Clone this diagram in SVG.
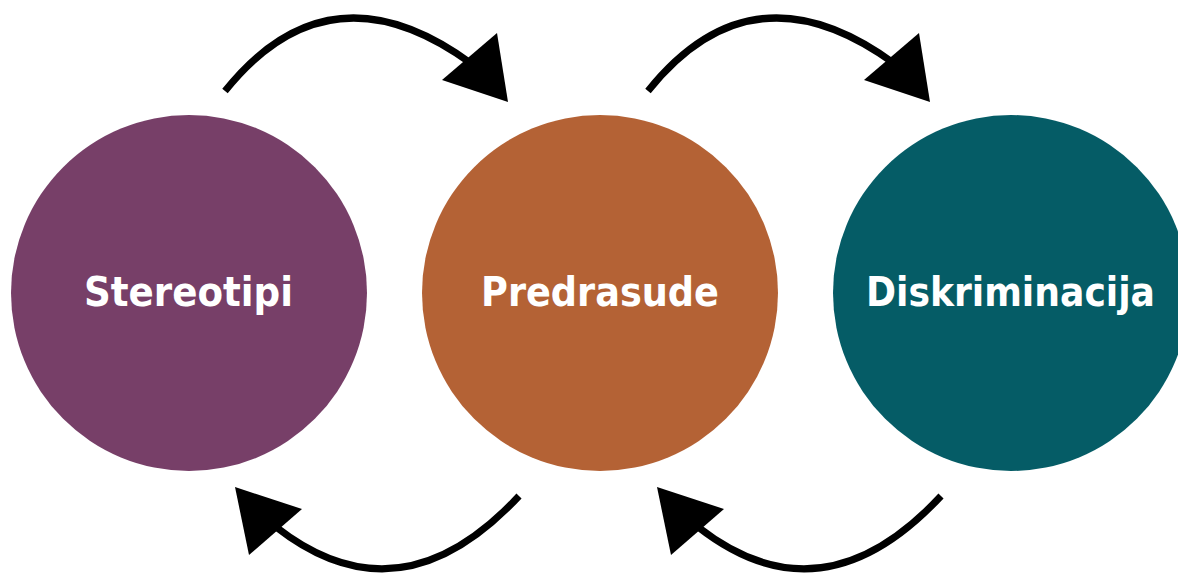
<svg xmlns="http://www.w3.org/2000/svg" width="1178" height="573" viewBox="0 0 1178 573">
<style>
.lbl{font-family:"DejaVu Sans","Liberation Sans",sans-serif;font-weight:bold;font-size:40px;fill:#ffffff;text-anchor:middle}
.arc{fill:none;stroke:#000;stroke-width:7}
.head{fill:#000}
</style>
<rect width="1178" height="573" fill="#ffffff"/>
<g id="connectors">
<path class="arc" d="M225,91 Q330,-40 472,64"/>
<polygon class="head" points="442,80 497,33 508,102"/>
<path class="arc" d="M648,91 Q753,-40 895,64"/>
<polygon class="head" points="864,80 919,33 930,102"/>
<path class="arc" d="M519,496 Q400,624 276,527"/>
<polygon class="head" points="235,487 302,509 249,555"/>
<path class="arc" d="M941,496 Q822,624 698,527"/>
<polygon class="head" points="657,487 724,509 671,555"/>
</g>
<g id="stereotipi">
<circle cx="189" cy="293" r="178" fill="#773f68"/>
<text class="lbl" x="188.5" y="306" textLength="209" lengthAdjust="spacingAndGlyphs">Stereotipi</text>
</g>
<g id="predrasude">
<circle cx="600" cy="293" r="178" fill="#b46235"/>
<text class="lbl" x="600" y="306" textLength="238" lengthAdjust="spacingAndGlyphs">Predrasude</text>
</g>
<g id="diskriminacija">
<circle cx="1011" cy="293" r="178" fill="#055c66"/>
<text class="lbl" x="1010.5" y="306" textLength="289" lengthAdjust="spacingAndGlyphs">Diskriminacija</text>
</g>
</svg>
